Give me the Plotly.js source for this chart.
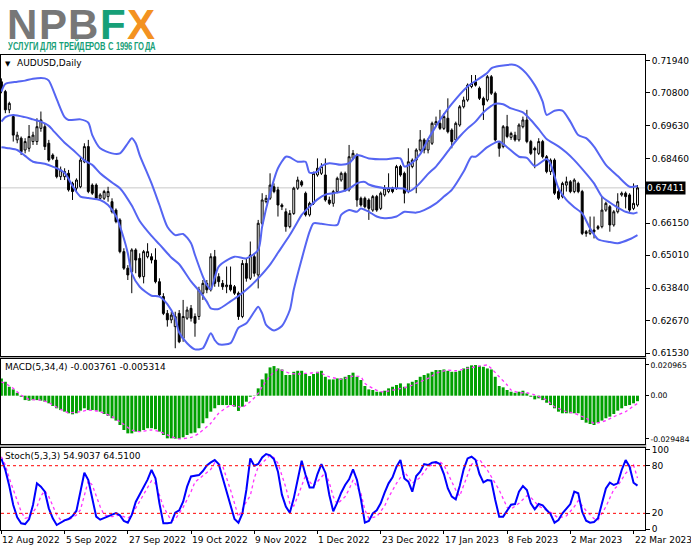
<!DOCTYPE html>
<html><head><meta charset="utf-8">
<script src="https://cdn.plot.ly/plotly-3.0.1.min.js"></script>
<style>
@font-face{font-family:'LogoSans';src:local('Liberation Sans Bold'),local('LiberationSans-Bold');font-weight:bold;ascent-override:75%;descent-override:0%;line-gap-override:0%;}
@font-face{font-family:'TagSans';src:local('Liberation Sans Bold'),local('LiberationSans-Bold');font-weight:bold;ascent-override:75%;descent-override:5%;line-gap-override:0%;}
html,body{margin:0;padding:0;background:#fff;}
#wrap{position:relative;width:691px;height:549px;}
#chart{width:691px;height:549px;}
#logo{position:absolute;left:7px;top:5.5px;height:34px;line-height:34px;font-family:'LogoSans','Liberation Sans',Arial,sans-serif;font-weight:bold;font-size:42px;letter-spacing:1.5px;white-space:nowrap;z-index:5;}
#tagline{position:absolute;left:8px;top:42px;height:9px;line-height:9px;font-family:'TagSans','Liberation Sans',Arial,sans-serif;font-weight:bold;font-size:10.5px;color:#17a078;white-space:nowrap;transform:scaleX(0.69);transform-origin:0 0;z-index:5;}
</style>
</head><body><div id="wrap"><div id="chart"></div>
<div id="logo"><span style="color:#777777">NPB</span><span style="color:#17a078">F</span><span style="color:#f39221">X</span></div>
<div id="tagline">УСЛУГИ ДЛЯ ТРЕЙДЕРОВ С 1996 ГОДА</div>
</div>
<script>
// ---- Daily AUDUSD candles (bar index 0 = 12 Aug 2022) ----
const openP = [
.7119,.7084,.7019,.6995,.6912,.6918,.6876,.6882,.6906,.6906,
.6953,.6959,.6900,.6858,.6840,.6781,.6781,.6793,.6757,.6740,
.6745,.6834,.6888,.6751,.6751,.6704,.6704,.6710,.6692,.6662,
.6627,.6514,.6455,.6443,.6520,.6490,.6425,.6496,.6496,.6484,
.6407,.6354,.6294,.6271,.6247,.6294,.6205,.6277,.6312,.6283,
.6283,.6366,.6401,.6378,.6496,.6425,.6401,.6389,.6395,.6389,
.6366,.6283,.6472,.6419,.6496,.6431,.6615,.6692,.6704,.6745,
.6734,.6680,.6656,.6603,.6650,.6740,.6763,.6722,.6645,.6686,
.6787,.6793,.6787,.6698,.6686,.6728,.6769,.6793,.6734,.6846,
.6858,.6704,.6704,.6698,.6662,.6710,.6668,.6716,.6728,.6740,
.6740,.6817,.6793,.6728,.6817,.6840,.6876,.6912,.6876,.6900,
.6965,.6971,.6953,.6989,.6947,.6912,.6965,.7030,.7054,.7102,
.7119,.7096,.7060,.7054,.7137,.7078,.6900,.6888,.6959,.6921,
.6929,.6912,.6959,.6983,.6906,.6882,.6864,.6906,.6852,.6799,
.6840,.6728,.6710,.6751,.6763,.6728,.6757,.6728,.6585,.6579,
.6591,.6603,.6603,.6662,.6674,.6609,.6656,.6716,.6722,.6716,
.6668,.6680];
const highP = [
.7131,.7090,.7048,.7001,.6941,.6924,.6918,.6965,.6941,.6989,
.7013,.6971,.6912,.6864,.6852,.6817,.6811,.6805,.6763,.6775,
.6852,.6900,.6912,.6757,.6757,.6722,.6734,.6745,.6704,.6668,
.6633,.6526,.6466,.6526,.6526,.6508,.6520,.6544,.6508,.6526,
.6419,.6366,.6306,.6300,.6300,.6306,.6342,.6318,.6324,.6294,
.6389,.6413,.6413,.6508,.6520,.6437,.6413,.6461,.6461,.6395,
.6372,.6484,.6490,.6550,.6508,.6627,.6722,.6716,.6793,.6757,
.6745,.6686,.6668,.6662,.6745,.6781,.6769,.6728,.6692,.6799,
.6846,.6829,.6846,.6710,.6734,.6781,.6799,.6799,.6894,.6876,
.6864,.6710,.6710,.6704,.6716,.6716,.6728,.6751,.6793,.6745,
.6823,.6823,.6799,.6882,.6846,.6882,.6947,.6918,.6918,.6977,
.6995,.7019,.7007,.7060,.6953,.6977,.7036,.7066,.7113,.7143,
.7143,.7102,.7066,.7143,.7143,.7084,.6906,.6965,.7001,.6941,
.6941,.6971,.6995,.7019,.6912,.6888,.6918,.6912,.6858,.6846,
.6846,.6740,.6763,.6781,.6769,.6775,.6763,.6734,.6591,.6639,
.6639,.6609,.6710,.6692,.6680,.6662,.6722,.6728,.6728,.6722,
.6757,.6751];
const lowP = [
.7078,.7007,.7007,.6906,.6900,.6858,.6864,.6870,.6894,.6894,
.6941,.6876,.6834,.6840,.6775,.6769,.6769,.6728,.6698,.6728,
.6740,.6829,.6722,.6716,.6698,.6698,.6698,.6692,.6650,.6615,
.6508,.6449,.6413,.6366,.6437,.6419,.6401,.6490,.6472,.6401,
.6354,.6288,.6247,.6259,.6170,.6188,.6193,.6271,.6265,.6211,
.6271,.6342,.6366,.6372,.6389,.6389,.6378,.6366,.6372,.6360,
.6271,.6277,.6407,.6413,.6425,.6383,.6609,.6686,.6698,.6722,
.6639,.6662,.6585,.6597,.6645,.6734,.6745,.6639,.6639,.6680,
.6781,.6787,.6692,.6680,.6674,.6722,.6763,.6728,.6728,.6840,
.6674,.6674,.6668,.6627,.6656,.6656,.6662,.6710,.6722,.6722,
.6734,.6781,.6686,.6722,.6811,.6722,.6870,.6864,.6864,.6894,
.6959,.6947,.6947,.6935,.6882,.6906,.6959,.7024,.7048,.7096,
.7102,.7054,.6983,.7048,.7072,.6906,.6852,.6882,.6918,.6912,
.6906,.6906,.6953,.6900,.6858,.6811,.6858,.6846,.6793,.6787,
.6716,.6698,.6704,.6728,.6722,.6722,.6722,.6573,.6567,.6573,
.6561,.6591,.6597,.6656,.6585,.6603,.6650,.6710,.6668,.6656,
.6662,.6674];
const closeP = [
.7090,.7019,.7042,.6929,.6929,.6870,.6906,.6924,.6929,.6959,
.6983,.6888,.6840,.6846,.6781,.6805,.6799,.6734,.6728,.6769,
.6840,.6888,.6728,.6722,.6704,.6716,.6728,.6728,.6656,.6621,
.6514,.6455,.6431,.6520,.6484,.6425,.6514,.6514,.6484,.6407,
.6360,.6294,.6271,.6288,.6283,.6193,.6283,.6306,.6277,.6259,
.6378,.6401,.6378,.6496,.6401,.6407,.6389,.6395,.6378,.6366,
.6283,.6472,.6419,.6502,.6437,.6615,.6698,.6704,.6751,.6728,
.6680,.6674,.6603,.6650,.6740,.6769,.6751,.6645,.6686,.6793,
.6811,.6817,.6698,.6686,.6728,.6775,.6793,.6734,.6852,.6864,
.6698,.6680,.6674,.6668,.6710,.6662,.6722,.6740,.6740,.6728,
.6817,.6787,.6722,.6834,.6840,.6876,.6912,.6876,.6912,.6971,
.6977,.6953,.6995,.6941,.6906,.6971,.7030,.7054,.7107,.7113,
.7107,.7060,.7036,.7137,.7078,.6912,.6882,.6959,.6924,.6935,
.6912,.6965,.6983,.6906,.6864,.6876,.6906,.6852,.6799,.6840,
.6722,.6704,.6757,.6763,.6728,.6769,.6728,.6579,.6579,.6591,
.6585,.6597,.6662,.6686,.6609,.6656,.6692,.6722,.6710,.6662,
.6686,.67411];

// ---- Bollinger bands (read at sample bars) ----
const upperIdx = [0,1,4,6,8,11,12,14,16,17,20,22,23,25,28,30,32,33,34,35,38,40,42,44,46,48,49,51,52,53,55,59,62,65,66,68,70,72,73,75,77,78,80,81,83,86,88,90,93,97,101,102,104,106,108,110,111,114,118,121,123,124,126,130,132,135,137,138,140,142,144,146,148,150,153,156,159,161];
const upperVal = [.7084,.7111,.7119,.7123,.7130,.7131,.7123,.7057,.6993,.6983,.6985,.6973,.6929,.6882,.6864,.6864,.6900,.6918,.6900,.6858,.6757,.6680,.6603,.6573,.6577,.6544,.6502,.6425,.6395,.6380,.6461,.6496,.6490,.6520,.6603,.6722,.6811,.6852,.6850,.6834,.6834,.6795,.6799,.6819,.6829,.6823,.6829,.6858,.6846,.6843,.6846,.6817,.6831,.6861,.6914,.6961,.6983,.7040,.7102,.7131,.7151,.7167,.7175,.7179,.7161,.7107,.7048,.7001,.7016,.7016,.6977,.6929,.6918,.6888,.6823,.6783,.6745,.6748];
const midIdx = [0,1,3,6,8,10,12,13,16,18,21,23,25,28,30,33,35,38,40,43,45,48,50,52,53,55,58,60,63,65,68,70,73,75,76,78,80,82,84,86,88,90,92,93,97,102,103,105,107,108,110,112,114,116,118,120,122,124,125,127,129,132,134,136,138,141,143,145,148,150,152,154,156,158,160,161];
const midVal = [.6977,.6993,.7001,.6993,.6985,.6977,.6962,.6947,.6902,.6878,.6839,.6823,.6793,.6760,.6740,.6678,.6623,.6570,.6540,.6493,.6469,.6408,.6375,.6336,.6312,.6310,.6337,.6356,.6391,.6419,.6468,.6510,.6573,.6621,.6645,.6674,.6700,.6717,.6722,.6727,.6738,.6757,.6762,.6753,.6740,.6738,.6728,.6745,.6775,.6791,.6817,.6852,.6890,.6924,.6953,.6977,.7010,.7033,.7041,.7039,.7024,.7010,.6983,.6950,.6915,.6889,.6867,.6840,.6792,.6757,.6710,.6689,.6671,.6656,.6650,.6654];
const lowerIdx = [0,2,4,6,8,11,13,16,18,20,22,25,27,29,31,32,33,35,38,40,42,44,45,47,49,51,53,54,55,58,60,62,64,65,66,67,69,71,73,74,76,78,79,81,85,86,88,90,91,93,95,97,100,102,105,107,110,112,114,117,119,120,123,126,128,131,133,135,138,139,141,143,145,147,149,151,154,156,159,161];
const lowerVal = [.6886,.6882,.6876,.6855,.6834,.6827,.6817,.6795,.6748,.6710,.6705,.6698,.6680,.6641,.6561,.6508,.6437,.6389,.6357,.6354,.6327,.6277,.6226,.6188,.6166,.6170,.6223,.6199,.6184,.6188,.6243,.6259,.6300,.6318,.6294,.6253,.6233,.6249,.6306,.6378,.6487,.6585,.6615,.6613,.6609,.6645,.6662,.6656,.6668,.6656,.6639,.6633,.6639,.6656,.6653,.6662,.6686,.6710,.6734,.6799,.6852,.6852,.6886,.6906,.6886,.6852,.6848,.6819,.6844,.6826,.6740,.6698,.6672,.6650,.6597,.6558,.6548,.6544,.6558,.6573];

// ---- MACD(5,34,4) ----
const macdMain = [
.0118,.0095,.0061,.0043,.0020,-.0007,-.0030,-.0034,-.0030,-.0030,
-.0034,-.0041,-.0052,-.0070,-.0086,-.0098,-.0109,-.0120,-.0127,-.0120,
-.0102,-.0086,-.0098,-.0098,-.0102,-.0109,-.0125,-.0138,-.0154,-.0170,
-.0200,-.0234,-.0257,-.0257,-.0245,-.0245,-.0234,-.0222,-.0222,-.0229,
-.0245,-.0268,-.0291,-.0291,-.0293,-.0295,-.0284,-.0268,-.0257,-.0252,
-.0222,-.0188,-.0154,-.0109,-.0086,-.0064,-.0064,-.0064,-.0064,-.0075,
-.0104,-.0075,-.0041,-.0007,-.0002,.0050,.0111,.0152,.0193,.0202,
.0186,.0179,.0141,.0141,.0163,.0170,.0170,.0148,.0134,.0148,
.0163,.0170,.0129,.0111,.0111,.0118,.0118,.0129,.0141,.0157,
.0129,.0107,.0066,.0043,.0039,.0027,.0027,.0034,.0050,.0061,
.0073,.0084,.0061,.0084,.0095,.0107,.0129,.0141,.0152,.0163,
.0175,.0175,.0179,.0170,.0163,.0163,.0170,.0186,.0197,.0207,
.0209,.0204,.0197,.0186,.0179,.0129,.0066,.0057,.0039,.0027,
.0020,.0027,.0034,.0016,-.0007,-.0025,-.0018,-.0030,-.0048,-.0064,
-.0086,-.0109,-.0120,-.0120,-.0120,-.0120,-.0120,-.0166,-.0184,-.0193,
-.0200,-.0184,-.0170,-.0154,-.0143,-.0125,-.0102,-.0086,-.0070,-.0064,
-.0052,-.003761];
const macdSigIdx = [0,1,3,5,7,10,12,15,17,20,22,25,28,30,33,35,38,40,43,45,48,50,53,55,58,60,61,63,65,66,68,70,71,73,75,77,80,81,83,86,87,89,91,92,94,96,97,100,103,105,108,110,113,115,118,121,123,124,126,128,129,131,133,135,138,140,143,145,148,150,153,155,158,160,161];
const macdSigVal = [.0095,.0084,.0050,.0005,-.0025,-.0030,-.0048,-.0093,-.0116,-.0109,-.0098,-.0109,-.0143,-.0177,-.0234,-.0245,-.0234,-.0245,-.0279,-.0294,-.0285,-.0257,-.0188,-.0120,-.0066,-.0075,-.0079,-.0041,.0016,.0061,.0134,.0179,.0175,.0152,.0148,.0152,.0157,.0152,.0129,.0111,.0118,.0134,.0129,.0084,.0050,.0027,.0027,.0043,.0061,.0084,.0118,.0152,.0175,.0170,.0186,.0202,.0209,.0186,.0129,.0073,.0039,.0020,.0020,.0005,-.0030,-.0075,-.0109,-.0120,-.0154,-.0188,-.0170,-.0143,-.0109,-.0070,-.005314];

// ---- Stochastic(5,3,3) ----
const stochMain = [
88.8,74.6,54.4,30.5,14.9,7.4,6.5,12.4,30.5,57.8,
53.6,47.3,26.3,13.7,5.3,8.6,11.2,12.8,16.6,23.3,
45.2,71.2,62.0,38.9,15.8,12.0,13.7,16.2,18.3,20.4,
17.5,10.3,8.2,17.9,34.3,44.3,53.1,62.4,74.6,64.0,
32.6,7.4,7.4,8.2,20.8,23.8,34.7,53.6,66.5,67.0,
68.2,73.3,80.4,84.2,87.1,82.1,64.0,49.4,29.6,12.8,
8.2,19.9,49.4,89.2,80.0,82.1,90.5,94.7,93.0,88.0,
72.5,43.5,28.4,20.8,38.9,64.0,86.3,68.2,52.7,52.7,
69.5,82.1,71.2,43.1,22.5,33.4,46.0,55.7,62.8,75.4,
62.0,37.6,8.2,10.3,19.9,23.8,32.6,46.0,57.8,65.3,
78.8,87.1,64.0,59.9,47.3,67.0,72.5,82.1,80.8,83.8,
84.6,82.1,69.5,51.4,41.0,37.6,54.4,75.4,89.2,91.3,
87.5,69.5,59.0,61.9,61.1,36.8,15.8,15.8,24.2,30.9,
31.7,47.3,54.4,49.4,32.6,25.0,31.7,30.1,24.2,19.1,
8.2,11.6,20.0,26.3,31.7,47.3,45.2,22.1,10.7,8.2,
9.1,13.7,31.7,51.4,58.6,55.7,57.8,74.6,87.1,78.8,
58.6,54.9037];
const stochSigIdx = [0,1,2,4,5,6,7,9,10,11,12,14,15,17,19,20,21,22,23,25,26,28,30,32,33,35,37,38,39,41,43,44,46,48,49,51,53,54,56,58,60,62,63,64,65,67,68,69,70,72,73,74,75,77,78,79,81,82,83,84,85,87,88,89,91,92,93,95,97,98,100,102,103,104,106,108,110,111,112,114,115,116,118,119,121,123,124,126,128,129,131,133,134,136,138,139,141,143,145,146,148,150,151,153,155,156,158,160,161];
const stochSigVal = [91.3,80.9,64.1,36.8,22.1,13.7,14.9,28.3,41.8,48.5,41.0,17.9,11.5,11.5,17.9,24.2,41.8,61.1,55.7,28.4,17.9,15.8,17.9,13.7,17.9,35.9,52.7,61.1,57.7,28.4,10.7,12.4,27.5,47.3,59.4,67.8,75.4,83.8,79.6,49.4,15.8,34.6,42.2,64.1,78.7,88.0,93.4,90.0,82.9,52.7,32.6,29.2,41.0,68.2,59.9,54.4,66.1,71.2,58.6,41.0,31.7,41.0,50.2,61.9,45.2,24.2,13.7,15.8,29.2,40.1,57.8,72.5,65.3,57.8,65.3,78.8,82.9,85.0,80.8,58.6,49.4,41.8,68.2,81.7,88.0,74.6,66.1,49.4,27.5,25.4,32.6,42.2,40.1,29.2,23.8,21.2,14.1,16.6,28.3,35.9,23.3,13.3,11.6,28.3,50.2,54.8,70.3,80.8,64.51];
const stochLevels = [80, 20];

// ---- Axis ticks ----
const dateTickIdx = [0,16,32,48,64,80,96,112,128,144,160];
const dateTickText = ['12 Aug 2022','5 Sep 2022','27 Sep 2022','19 Oct 2022','9 Nov 2022','1 Dec 2022','23 Dec 2022','17 Jan 2023','8 Feb 2023','2 Mar 2023','22 Mar 2023'];
const priceTicks = [0.7194,0.7080,0.6963,0.6846,0.6615,0.6501,0.6384,0.6267,0.6153];
const macdTicks = [0.020965, 0, -0.029484];
const macdTickText = ['0.020965','0.00','-0.029484'];
const stochTicks = [100, 80, 20, 0];

const barIdx = closeP.map((_, i) => i);
const lastClose = closeP[closeP.length - 1];
const lastK = stochMain[stochMain.length - 1];
const lastD = stochSigVal[stochSigVal.length - 1];
const lastMacd = macdMain[macdMain.length - 1];
const lastSig = macdSigVal[macdSigVal.length - 1];

const BAND = '#5565f2';
const traces = [
  {type:'candlestick', x:barIdx, open:openP, high:highP, low:lowP, close:closeP, xaxis:'x', yaxis:'y',
   increasing:{line:{color:'#000', width:1}, fillcolor:'#ffffff'},
   decreasing:{line:{color:'#000', width:1}, fillcolor:'#000000'},
   whiskerwidth:0, hoverinfo:'skip'},
  {type:'scatter', mode:'lines', x:upperIdx, y:upperVal, xaxis:'x', yaxis:'y', line:{color:BAND, width:2, shape:'spline', smoothing:0.7}, hoverinfo:'skip'},
  {type:'scatter', mode:'lines', x:midIdx, y:midVal, xaxis:'x', yaxis:'y', line:{color:BAND, width:2, shape:'spline', smoothing:0.7}, hoverinfo:'skip'},
  {type:'scatter', mode:'lines', x:lowerIdx, y:lowerVal, xaxis:'x', yaxis:'y', line:{color:BAND, width:2, shape:'spline', smoothing:0.7}, hoverinfo:'skip'},
  {type:'bar', x:barIdx, y:macdMain, xaxis:'x2', yaxis:'y2', marker:{color:'#00a000', line:{width:0}}, hoverinfo:'skip'},
  {type:'scatter', mode:'lines', x:macdSigIdx, y:macdSigVal, xaxis:'x2', yaxis:'y2', line:{color:'#ff33ff', width:1.3, dash:'dot', shape:'spline', smoothing:0.5}, hoverinfo:'skip'},
  {type:'scatter', mode:'lines', x:stochSigIdx, y:stochSigVal, xaxis:'x3', yaxis:'y3', line:{color:'#ff33ff', width:1.3, dash:'dot'}, hoverinfo:'skip'},
  {type:'scatter', mode:'lines', x:barIdx, y:stochMain, xaxis:'x3', yaxis:'y3', line:{color:'#0000ff', width:2}, hoverinfo:'skip'}
];

const xRange = [-0.1, 162.9];
const xCommon = {range:xRange, showgrid:false, zeroline:false, showline:true, mirror:true, linecolor:'#000', linewidth:1, fixedrange:true};
const yCommon = {side:'right', showgrid:false, zeroline:false, showline:true, mirror:true, linecolor:'#000', linewidth:1,
  ticks:'outside', ticklen:4, tickcolor:'#000', tickfont:{family:'DejaVu Sans', size:9, color:'#000'}, fixedrange:true};

const annotations = [
  {xref:'paper', yref:'paper', x:0, y:1, xanchor:'left', yanchor:'top', xshift:2, yshift:-3, showarrow:false,
   text:'▼', font:{family:'DejaVu Sans', size:7, color:'#000'}},
  {xref:'paper', yref:'paper', x:0, y:1, xanchor:'left', yanchor:'top', xshift:14, yshift:-1, showarrow:false,
   text:'AUDUSD,Daily', font:{family:'DejaVu Sans', size:9, color:'#000'}},
  {xref:'paper', yref:'y2 domain', x:0, y:1, xanchor:'left', yanchor:'top', xshift:2, yshift:-1, showarrow:false,
   text:'MACD(5,34,4) ' + lastMacd.toFixed(6) + ' ' + lastSig.toFixed(6), font:{family:'DejaVu Sans', size:9, color:'#000'}},
  {xref:'paper', yref:'y3 domain', x:0, y:1, xanchor:'left', yanchor:'top', xshift:2, yshift:-1, showarrow:false,
   text:'Stoch(5,3,3) ' + lastK.toFixed(4) + ' ' + lastD.toFixed(4), font:{family:'DejaVu Sans', size:9, color:'#000'}},
  {xref:'paper', yref:'y', x:1, y:lastClose, xanchor:'left', yanchor:'middle', xshift:0, showarrow:false,
   text:lastClose.toFixed(5), bgcolor:'#000000', borderpad:1, font:{family:'DejaVu Sans', size:9, color:'#ffffff'}}
];
dateTickIdx.forEach((ix, k) => annotations.push({
  xref:'x3', yref:'paper', x:ix, y:0, xanchor:'left', yanchor:'top', yshift:-3, xshift:-1, showarrow:false,
  text:dateTickText[k], font:{family:'DejaVu Sans', size:9, color:'#000'}
}));

const shapes = [
  {type:'line', xref:'paper', yref:'y', x0:0, x1:1, y0:lastClose, y1:lastClose, line:{color:'#c8c8c8', width:1}, layer:'below'},
  {type:'rect', xref:'paper', yref:'paper', x0:-0.002, x1:1.002, y0:0.3600, y1:0.3663, fillcolor:'#a8a8a8', line:{width:0}, layer:'below'},
  {type:'rect', xref:'paper', yref:'paper', x0:-0.002, x1:1.002, y0:0.1726, y1:0.1811, fillcolor:'#a8a8a8', line:{width:0}, layer:'below'}
];
stochLevels.forEach(v => shapes.push({type:'line', xref:'paper', yref:'y3', x0:0, x1:1, y0:v, y1:v, line:{color:'#ff0000', width:1, dash:'3px,3px'}}));

const layout = {
  width:691, height:549, margin:{l:1, r:46, t:55, b:19, pad:0},
  paper_bgcolor:'#ffffff', plot_bgcolor:'#ffffff', showlegend:false, bargap:0.25,
  font:{family:'DejaVu Sans', size:9, color:'#000'},
  xaxis: Object.assign({}, xCommon, {anchor:'y', showticklabels:false, ticks:'', rangeslider:{visible:false}}),
  xaxis2: Object.assign({}, xCommon, {anchor:'y2', matches:'x', showticklabels:false, ticks:''}),
  xaxis3: Object.assign({}, xCommon, {anchor:'y3', matches:'x', showticklabels:false, ticks:'outside', ticklen:3, tickcolor:'#000', tickvals:dateTickIdx}),
  yaxis: Object.assign({}, yCommon, {domain:[0.3663, 1], range:[0.61423, 0.72143], tickvals:priceTicks, ticktext:priceTicks.map(v => v.toFixed(5)), anchor:'x'}),
  yaxis2: Object.assign({}, yCommon, {domain:[0.1811, 0.3600], range:[-0.03294, 0.02503], tickvals:macdTicks, ticktext:macdTickText, anchor:'x2',
    ticklen:3, tickfont:{family:'DejaVu Sans', size:7.6, color:'#000'}}),
  yaxis3: Object.assign({}, yCommon, {domain:[0, 0.1726], range:[-1, 102.3], tickvals:stochTicks, ticktext:stochTicks.map(String), anchor:'x3'}),
  annotations: annotations, shapes: shapes, hovermode:false
};

Plotly.newPlot('chart', traces, layout, {staticPlot:true, displayModeBar:false});
</script></body></html>
